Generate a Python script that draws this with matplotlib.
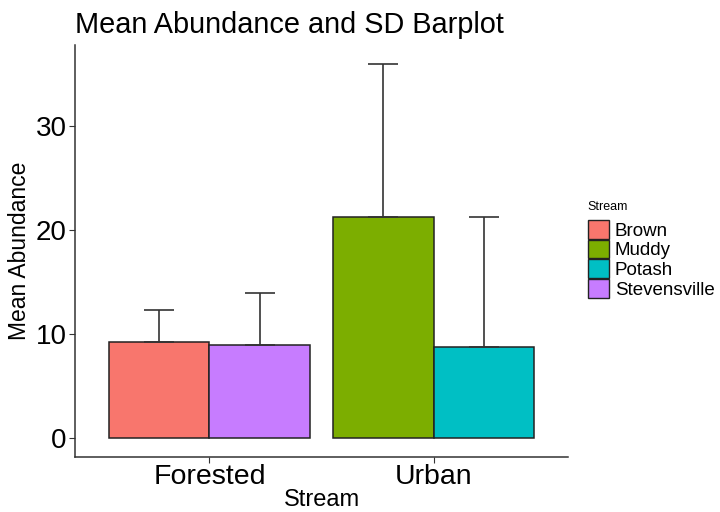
import numpy as np
import matplotlib.pyplot as plt
from matplotlib.patches import Patch

plt.rcParams['font.family'] = ['Liberation Sans', 'DejaVu Sans']

# data
groups = ['Forested', 'Urban']
streams = ['Brown', 'Stevensville', 'Muddy', 'Potash']
stream_group = [0, 0, 1, 1]
stream_side = [-1, 1, -1, 1]
means = [9.25, 8.95, 21.3, 8.75]
sds = [3.05, 5.05, 14.7, 12.55]
colors = {'Brown': '#F8766D', 'Muddy': '#7CAE00', 'Potash': '#00BFC4', 'Stevensville': '#C77CFF'}
legend_order = ['Brown', 'Muddy', 'Potash', 'Stevensville']

fig = plt.figure(figsize=(7.2, 5.12), dpi=100)
ax = fig.add_axes([0.104, 0.107, 0.685, 0.805])

w = 0.45
for s, g, side, m, sd in zip(streams, stream_group, stream_side, means, sds):
    x = g + 1 + side * w / 2
    ax.bar(x, m, width=w, color=colors[s], edgecolor='#222222', linewidth=1.1, zorder=2)
    ax.errorbar(x, m, yerr=[[0], [sd]], fmt='none', ecolor='#333333', elinewidth=1.2,
                capsize=11, capthick=1.2, zorder=3)

ax.set_xlim(0.4, 2.6)
ax.set_ylim(-1.8, 37.8)
ax.set_xticks([1, 2])
ax.set_xticklabels(groups, fontsize=20.5)
ax.set_yticks([0, 10, 20, 30])
ax.tick_params(axis='y', labelsize=20, length=4, color='#333333', pad=2)
ax.tick_params(axis='x', length=4, color='#333333', pad=1)
for sp in ['top', 'right']:
    ax.spines[sp].set_visible(False)
for sp in ['left', 'bottom']:
    ax.spines[sp].set_color('#333333')
    ax.spines[sp].set_linewidth(1.1)

ax.set_xlabel('Stream', fontsize=17, labelpad=-1)
ax.set_ylabel('Mean Abundance', fontsize=16.5, labelpad=3)
fig.text(0.104, 0.951, 'Mean Abundance and SD Barplot', fontsize=20.8, va='center', ha='left')

handles = [Patch(facecolor=colors[s], edgecolor='#222222', linewidth=1.0) for s in legend_order]
leg = fig.legend(handles, legend_order, loc='upper left', bbox_to_anchor=(0.816, 0.607),
                 frameon=False, title='Stream', fontsize=13.5, title_fontsize=9,
                 handlelength=1.15, handleheight=1.15, handletextpad=0.3, labelspacing=0.0,
                 borderaxespad=0, borderpad=0)
leg._legend_box.align = 'left'
leg._legend_box.sep = 5

fig.savefig('out.png', dpi=100)
